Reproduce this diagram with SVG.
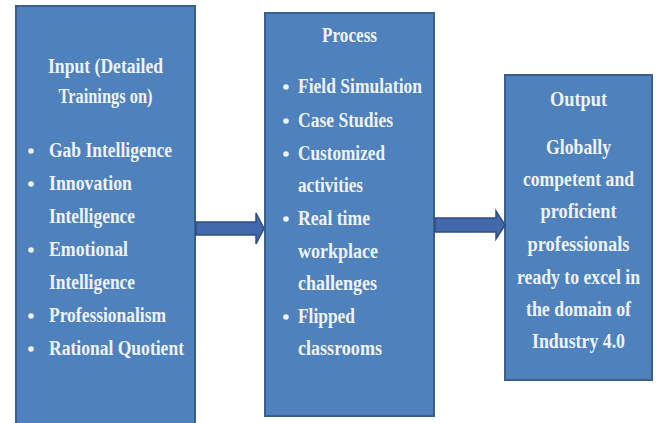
<svg xmlns="http://www.w3.org/2000/svg" width="657" height="423" viewBox="0 0 657 423">
  <style>
    .box { fill: #4F81BD; stroke: #3A5F8F; stroke-width: 2; }
    .t { font-family: "Liberation Serif", "Times New Roman", serif; font-weight: bold; font-size: 20px; fill: #EEF3FA; }
    .c { text-anchor: middle; }
    .dot { fill: #EEF3FA; }
    .arrow { fill: #4169AB; stroke: #2E4E82; stroke-width: 1.5; }
  </style>
  <rect width="657" height="423" fill="#FFFFFF"/>

  <g id="input">
    <rect class="box" x="16" y="6" width="179" height="430"/>
    <text class="t c" x="105.5" y="73" textLength="115" lengthAdjust="spacingAndGlyphs">Input (Detailed</text>
    <text class="t c" x="105.5" y="103" textLength="94" lengthAdjust="spacingAndGlyphs">Trainings on)</text>
    <circle class="dot" cx="31" cy="151" r="2.8"/>
    <text class="t" x="49" y="157" textLength="123" lengthAdjust="spacingAndGlyphs">Gab Intelligence</text>
    <circle class="dot" cx="31" cy="184" r="2.8"/>
    <text class="t" x="49" y="190" textLength="83" lengthAdjust="spacingAndGlyphs">Innovation</text>
    <text class="t" x="49" y="223" textLength="86" lengthAdjust="spacingAndGlyphs">Intelligence</text>
    <circle class="dot" cx="31" cy="250" r="2.8"/>
    <text class="t" x="49" y="256" textLength="79" lengthAdjust="spacingAndGlyphs">Emotional</text>
    <text class="t" x="49" y="289" textLength="86" lengthAdjust="spacingAndGlyphs">Intelligence</text>
    <circle class="dot" cx="31" cy="316" r="2.8"/>
    <text class="t" x="49" y="322" textLength="117" lengthAdjust="spacingAndGlyphs">Professionalism</text>
    <circle class="dot" cx="31" cy="349" r="2.8"/>
    <text class="t" x="49" y="355" textLength="135" lengthAdjust="spacingAndGlyphs">Rational Quotient</text>
  </g>

  <g id="process">
    <rect class="box" x="265" y="13" width="169" height="403"/>
    <text class="t c" x="349.5" y="42" textLength="55" lengthAdjust="spacingAndGlyphs">Process</text>
    <circle class="dot" cx="286" cy="87" r="2.8"/>
    <text class="t" x="298" y="93" textLength="124" lengthAdjust="spacingAndGlyphs">Field Simulation</text>
    <circle class="dot" cx="286" cy="121" r="2.8"/>
    <text class="t" x="298" y="127" textLength="95" lengthAdjust="spacingAndGlyphs">Case Studies</text>
    <circle class="dot" cx="286" cy="154" r="2.8"/>
    <text class="t" x="298" y="160" textLength="87" lengthAdjust="spacingAndGlyphs">Customized</text>
    <text class="t" x="298" y="192" textLength="65" lengthAdjust="spacingAndGlyphs">activities</text>
    <circle class="dot" cx="286" cy="219" r="2.8"/>
    <text class="t" x="298" y="225" textLength="72" lengthAdjust="spacingAndGlyphs">Real time</text>
    <text class="t" x="298" y="258" textLength="80" lengthAdjust="spacingAndGlyphs">workplace</text>
    <text class="t" x="298" y="290" textLength="79" lengthAdjust="spacingAndGlyphs">challenges</text>
    <circle class="dot" cx="286" cy="317" r="2.8"/>
    <text class="t" x="298" y="323" textLength="57" lengthAdjust="spacingAndGlyphs">Flipped</text>
    <text class="t" x="298" y="355" textLength="84" lengthAdjust="spacingAndGlyphs">classrooms</text>
  </g>

  <g id="output">
    <rect class="box" x="505" y="75" width="147" height="305"/>
    <text class="t c" x="578.5" y="106" textLength="57" lengthAdjust="spacingAndGlyphs">Output</text>
    <text class="t c" x="578.5" y="154" textLength="65" lengthAdjust="spacingAndGlyphs">Globally</text>
    <text class="t c" x="578.5" y="186" textLength="111" lengthAdjust="spacingAndGlyphs">competent and</text>
    <text class="t c" x="578.5" y="218" textLength="76" lengthAdjust="spacingAndGlyphs">proficient</text>
    <text class="t c" x="578.5" y="251" textLength="102" lengthAdjust="spacingAndGlyphs">professionals</text>
    <text class="t c" x="578.5" y="284" textLength="123" lengthAdjust="spacingAndGlyphs">ready to excel in</text>
    <text class="t c" x="578.5" y="316" textLength="105" lengthAdjust="spacingAndGlyphs">the domain of</text>
    <text class="t c" x="578.5" y="348" textLength="93" lengthAdjust="spacingAndGlyphs">Industry 4.0</text>
  </g>

  <g id="connectors">
    <polygon class="arrow" points="196,222 256,222 256,213 264,228.5 256,244 256,235 196,235"/>
    <polygon class="arrow" points="435,218 496,218 496,211 505,225 496,239 496,232 435,232"/>
  </g>
</svg>
